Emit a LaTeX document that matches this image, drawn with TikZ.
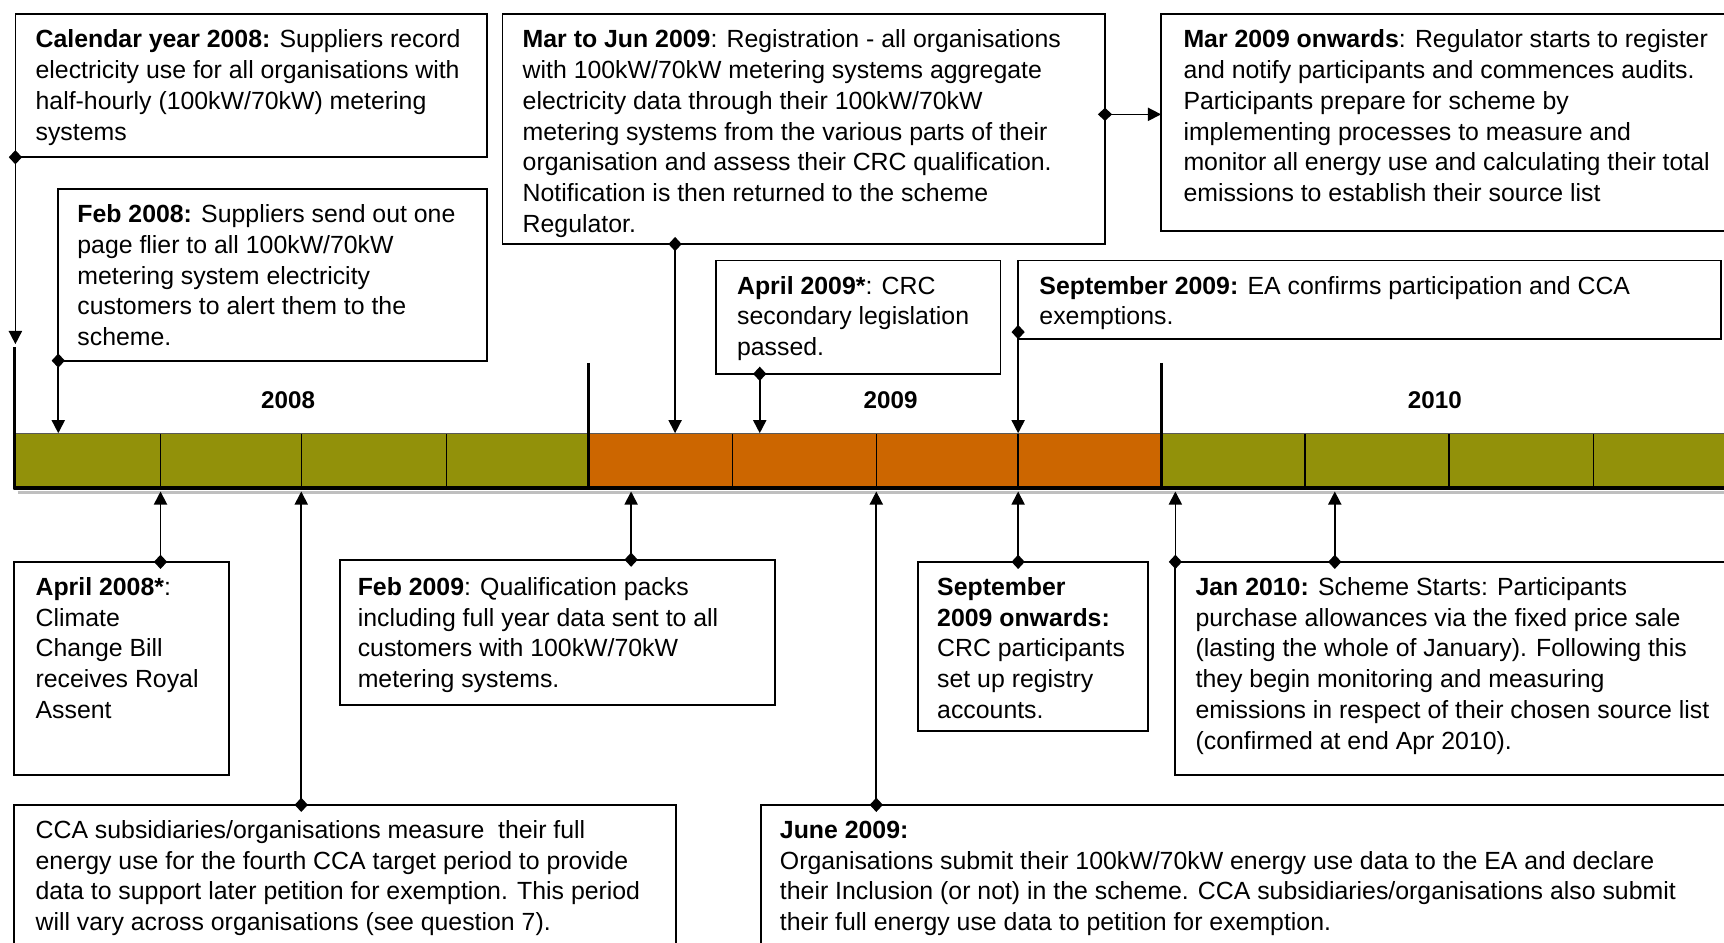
\documentclass[tikz,border=0pt]{standalone}
\usepackage{fontspec}
\setmainfont{Liberation Sans}
\usetikzlibrary{arrows.meta,calc}
\definecolor{barolive}{RGB}{146,145,10}
\definecolor{barorange}{RGB}{204,102,0}
\newcommand\evfont{\fontsize{11.3}{14}\selectfont}
\begin{document}
\begin{tikzpicture}[x=0.5pt,y=-0.5pt,
  evbox/.style={draw=black, line width=0.8pt, inner sep=0pt, outer sep=0pt, anchor=north west},
  evtext/.style={anchor=north west, inner sep=0pt, align=left, font=\evfont},
  conn/.style={line width=0.75pt, shorten <=-3.25pt, {Diamond[length=6.5pt,width=6pt]}-{Triangle[length=6pt,width=6pt]}},
  yearlbl/.style={font=\fontsize{11}{14}\selectfont\bfseries, inner sep=0pt},
]
\useasboundingbox (0,0) rectangle (1568,857);

% ---- timeline bar ----
\fill[barolive] (13,394) rectangle (535,444);
\fill[barorange] (535,394) rectangle (1056,444);
\fill[barolive] (1056,394) rectangle (1600,444);
\foreach \x in {146,274,406,666,797,926,1187,1318,1449}
  \draw[line width=0.6pt] (\x,394) -- (\x,444);
\draw[gray!70!black, line width=0.5pt] (13,394) -- (1600,394);
\draw[gray!50, line width=1.2pt] (16,448) -- (1600,448);
\draw[line width=1.6pt, line join=round] (13,316) -- (13,444) -- (1600,444);
\draw[line width=1.4pt] (535,330) -- (535,444);
\draw[line width=1.4pt] (1056,330) -- (1056,444);

\node[yearlbl] (y2008) at (262,364) {2008};
\node[yearlbl] (y2009) at (810,364) {2009};
\node[yearlbl] (y2010) at (1305,364) {2010};

% ---- anchor coordinates on the bar ----
\coordinate (calend) at (14,313);
\coordinate (t53) at (53,394);
\coordinate (t614) at (614,394);
\coordinate (t691) at (691,394);
\coordinate (t926) at (926,394);
\coordinate (b146) at (146,447);
\coordinate (b274) at (274,447);
\coordinate (b574) at (574,447);
\coordinate (b797) at (797,447);
\coordinate (b926) at (926,447);
\coordinate (b1069) at (1069,447);
\coordinate (b1214) at (1214,447);

% ---- boxes ----
\node[evbox, minimum width=214.5pt, minimum height=65pt] (cal) at (14,13) {};
\node[evbox, minimum width=195pt, minimum height=78pt] (feb08) at (53,172) {};
\node[evbox, minimum width=274pt, minimum height=104.5pt] (marjun) at (457,13) {};
\node[evbox, minimum width=265pt, minimum height=98.5pt] (mar09) at (1056,13) {};
\node[evbox, minimum width=129.5pt, minimum height=51.5pt] (apr09) at (651,237) {};
\node[evbox, minimum width=319.5pt, minimum height=35.5pt] (sep09) at (926,237) {};
\node[evbox, minimum width=97.5pt, minimum height=97pt] (apr08) at (13,511) {};
\node[evbox, minimum width=198pt, minimum height=66pt] (feb09) at (309,509) {};
\node[evbox, minimum width=104.5pt, minimum height=77pt] (sepon) at (835,511) {};
\node[evbox, minimum width=260pt, minimum height=97pt] (jan10) at (1069,511) {};
\node[evbox, minimum width=301pt, minimum height=70pt] (cca) at (13,732) {};
\node[evbox, minimum width=450pt, minimum height=70pt] (june) at (692,732) {};

% ---- texts ----
\node[evtext] (cal-t) at ($(cal.north west)+(18,10.4)$) {\strut\textbf{Calendar year 2008:} Suppliers record\\
electricity use for all organisations with\\
half-hourly (100kW/70kW) metering\\
systems};
\node[evtext] (feb08-t) at ($(feb08.north west)+(17,10.4)$) {\strut\textbf{Feb 2008:} Suppliers send out one\\
page flier to all 100kW/70kW\\
metering system electricity\\
customers to alert them to the\\
scheme.};
\node[evtext] (marjun-t) at ($(marjun.north west)+(18,10.4)$) {\strut\textbf{Mar to Jun 2009}: Registration - all organisations\\
with 100kW/70kW metering systems aggregate\\
electricity data through their 100kW/70kW\\
metering systems from the various parts of their\\
organisation and assess their CRC qualification.\\
Notification is then returned to the scheme\\
Regulator.};
\node[evtext] (mar09-t) at ($(mar09.north west)+(20,10.4)$) {\strut\textbf{Mar 2009 onwards}: Regulator starts to register\\
and notify participants and commences audits.\\
Participants prepare for scheme by\\
implementing processes to measure and\\
monitor all energy use and calculating their total\\
emissions to establish their source list};
\node[evtext] (apr09-t) at ($(apr09.north west)+(19,10.4)$) {\strut\textbf{April 2009*}: CRC\\
secondary legislation\\
passed.};
\node[evtext] (sep09-t) at ($(sep09.north west)+(19,10.4)$) {\strut\textbf{September 2009:} EA confirms participation and CCA\\
exemptions.};
\node[evtext] (apr08-t) at ($(apr08.north west)+(19,10.4)$) {\strut\textbf{April 2008*}:\\
Climate\\
Change Bill\\
receives Royal\\
Assent};
\node[evtext] (feb09-t) at ($(feb09.north west)+(16,12.4)$) {\strut\textbf{Feb 2009}: Qualification packs\\
including full year data sent to all\\
customers with 100kW/70kW\\
metering systems.};
\node[evtext] (sepon-t) at ($(sepon.north west)+(17,10.4)$) {\strut\textbf{September}\\
\textbf{2009 onwards:}\\
CRC participants\\
set up registry\\
accounts.};
\node[evtext] (jan10-t) at ($(jan10.north west)+(18,10.4)$) {\strut\textbf{Jan 2010:} Scheme Starts: Participants\\
purchase allowances via the fixed price sale\\
(lasting the whole of January). Following this\\
they begin monitoring and measuring\\
emissions in respect of their chosen source list\\
(confirmed at end Apr 2010).};
\node[evtext] (cca-t) at ($(cca.north west)+(19,10.4)$) {\strut CCA subsidiaries/organisations measure\ \ their full\\
energy use for the fourth CCA target period to provide\\
data to support later petition for exemption. This period\\
will vary across organisations (see question 7).};
\node[evtext] (june-t) at ($(june.north west)+(17,10.4)$) {\strut\textbf{June 2009:}\\
Organisations submit their 100kW/70kW energy use data to the EA and declare\\
their Inclusion (or not) in the scheme. CCA subsidiaries/organisations also submit\\
their full energy use data to petition for exemption.};

% ---- connectors ----
\draw[conn] (cal.south west) -- (calend);
\draw[conn] (feb08.south west) -- (t53);
\draw[conn] (marjun.south -| t614) -- (t614);
\draw[conn] ($(marjun.north east)+(0,91)$) -- ($(mar09.north west)+(0,91)$);
\draw[conn] (apr09.south -| t691) -- (t691);
\draw[conn] ($(sep09.south west)+(0,-6)$) -- (t926);
\draw[conn] (apr08.north -| b146) -- (b146);
\draw[conn] (cca.north -| b274) -- (b274);
\draw[conn] (feb09.north -| b574) -- (b574);
\draw[conn] (june.north -| b797) -- (b797);
\draw[conn] (sepon.north -| b926) -- (b926);
\draw[conn] (jan10.north west) -- (b1069);
\draw[conn] (jan10.north -| b1214) -- (b1214);
\end{tikzpicture}
\end{document}
